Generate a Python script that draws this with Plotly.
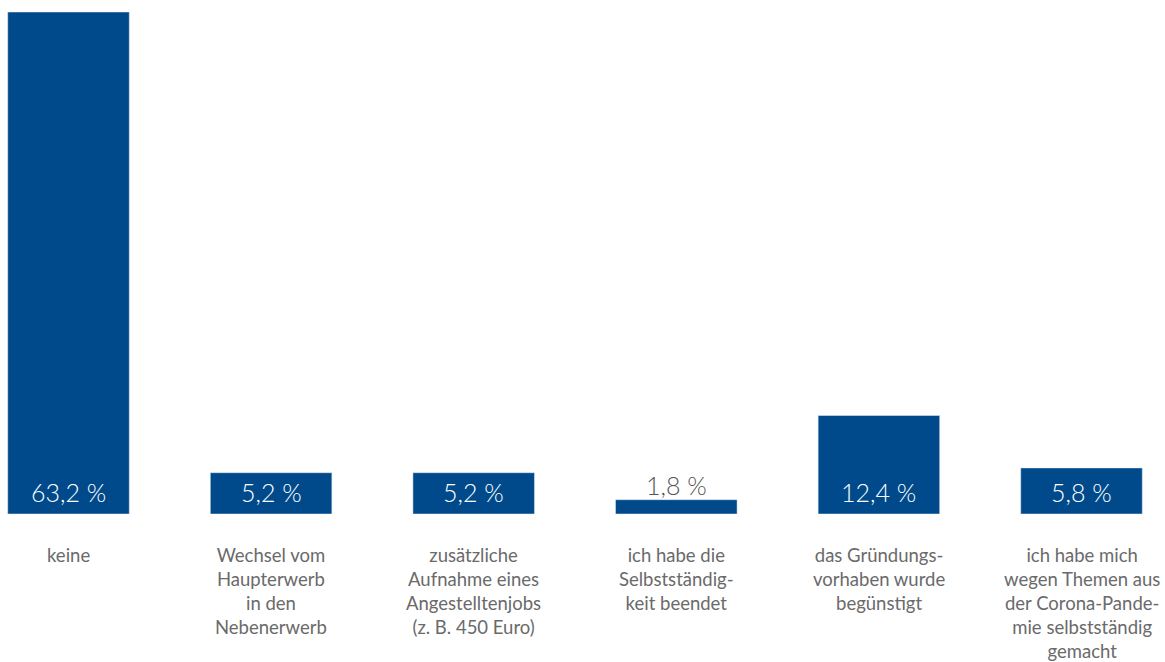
import plotly.graph_objects as go

categories = [
    "keine",
    "Wechsel vom<br>Haupterwerb<br>in den<br>Nebenerwerb",
    "zusätzliche<br>Aufnahme eines<br>Angestelltenjobs<br>(z. B. 450 Euro)",
    "ich habe die<br>Selbstständig-<br>keit beendet",
    "das Gründungs-<br>vorhaben wurde<br>begünstigt",
    "ich habe mich<br>wegen Themen aus<br>der Corona-Pande-<br>mie selbstständig<br>gemacht",
]
values = [63.2, 5.2, 5.2, 1.8, 12.4, 5.8]
value_labels = ["63,2 %", "5,2 %", "5,2 %", "1,8 %", "12,4 %", "5,8 %"]

BLUE = "#004A8C"
GRAY = "#6a6a6a"
FONT = "Lato"

xs = list(range(len(categories)))
fig = go.Figure(go.Bar(x=xs, y=values, marker_color=BLUE, width=0.6,
                       hoverinfo="skip"))

ann = []
for i, (v, lab, cat) in enumerate(zip(values, value_labels, categories)):
    if v >= 3:
        ann.append(dict(x=i, y=0, text=lab, showarrow=False, yanchor="middle",
                        yshift=22, font=dict(family=FONT, size=25, weight=300, color="white")))
    else:
        ann.append(dict(x=i, y=v, text=lab, showarrow=False, yanchor="bottom",
                        yshift=-2, font=dict(family=FONT, size=25, weight=300, color="#555555")))
    ann.append(dict(x=i, y=0, text=cat, showarrow=False, yanchor="top",
                    yshift=-28,
                    font=dict(family=FONT, size=18.5, weight=400, color=GRAY)))

fig.update_layout(
    width=1165, height=662,
    margin=dict(l=0, r=0, t=12, b=148),
    paper_bgcolor="white", plot_bgcolor="white",
    xaxis=dict(range=[-0.3381, 5.4121], visible=False),
    yaxis=dict(range=[0, 63.2], visible=False),
    annotations=ann,
    showlegend=False,
)
fig.write_html("out.html",
               config={"displayModeBar": False},
               post_script="document.body.style.margin='0px';document.body.style.overflow='hidden';")
